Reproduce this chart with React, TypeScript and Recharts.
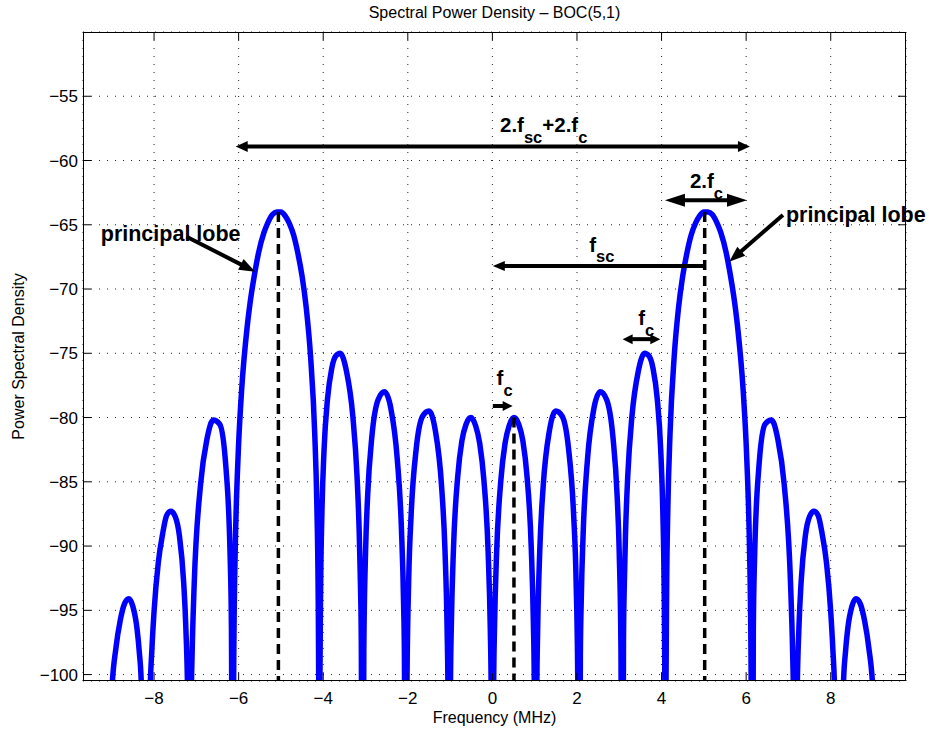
import React from 'react';
import { LineChart, Line, XAxis, YAxis, CartesianGrid, ReferenceLine, ReferenceDot } from 'recharts';

const W = 929;
const H = 736;
const BOX = { left: 83, top: 32, right: 906, bottom: 681 };
const FONT = '"Liberation Sans", Arial, Helvetica, sans-serif';

const xTicks = [-8, -6, -4, -2, 0, 2, 4, 6, 8];
const yTicks = [-100, -95, -90, -85, -80, -75, -70, -65, -60, -55];
const xDomain = [-9.68, 9.78];
const yDomain = [-100.5, -50];

// values; nulls go far below the axis and get clipped
const freqLeft = [
  -9.207, -9.0, -8.9, -8.8, -8.7, -8.6, -8.5, -8.4, -8.35, -8.3,
  -8.184, -8.1, -8.05, -8.0, -7.9, -7.8, -7.7, -7.6, -7.5, -7.4, -7.3, -7.25, -7.2,
  -7.161, -7.12, -7.1, -7.05, -6.9, -6.75, -6.6, -6.45, -6.3, -6.2, -6.17,
  -6.138, -6.13, -6.11, -6.08, -6.03, -6.0, -5.93, -5.8, -5.73, -5.6, -5.53, -5.4, -5.33,
  -5.2, -5.1, -5.0, -4.9, -4.8, -4.7, -4.6, -4.5, -4.4, -4.3, -4.2, -4.15, -4.12, -4.1,
  -4.092, -4.08, -4.06, -4.03, -3.98, -3.9, -3.8, -3.7, -3.6, -3.45, -3.3, -3.2, -3.15, -3.12, -3.1,
  -3.069, -3.04, -3.0, -2.95, -2.85, -2.7, -2.55, -2.4, -2.25, -2.15, -2.1, -2.08,
  -2.046, -2.02, -1.98, -1.92, -1.8, -1.65, -1.5, -1.35, -1.2, -1.12, -1.07, -1.05,
  -1.023, -0.99, -0.97, -0.92, -0.82, -0.72, -0.62, -0.51, -0.4, -0.3, -0.2, -0.1, -0.05, -0.03,
];
const psdLeft = [
  -130, -101.4, -97.9, -95.8, -94.5, -94.1, -94.7, -96.5, -98.2, -100.8,
  -130, -102.2, -98.0, -95.1, -91.3, -89.1, -87.6, -87.3, -87.7, -89.2, -92.8, -96.2, -102.8,
  -130, -101.9, -98.4, -92.9, -85.2, -81.7, -80.2, -80.5, -83.9, -90.9, -96.5,
  -130, -107, -96.8, -90.2, -84.4, -82.0, -77.9, -73.0, -71.1, -68.4, -67.2, -65.6, -65.0,
  -64.2, -64.0, -64.0, -64.3, -64.9, -65.8, -67.2, -69.0, -71.5, -75.2, -81.3, -86.9, -93.5, -104.4,
  -130, -101.6, -92.9, -87.3, -82.5, -78.6, -76.2, -75.2, -75.0, -76.4, -79.9, -84.6, -88.8, -92.9, -97.3,
  -130, -98.1, -90.6, -86.1, -81.5, -78.6, -78.0, -79.3, -83.2, -88.7, -94.4, -98.5,
  -130, -100.9, -92.8, -87.5, -82.4, -79.9, -79.5, -81.0, -85.4, -90.4, -96.6, -101.4,
  -130, -100.4, -96.1, -90.2, -84.6, -81.8, -80.5, -80.0, -80.6, -82.0, -84.9, -90.5, -96.4, -100.8,
];
const freqRight = [
  0, 0.03, 0.05, 0.1, 0.2, 0.3, 0.4, 0.51, 0.62, 0.72, 0.82, 0.92, 0.97, 0.99,
  1.023, 1.05, 1.07, 1.12, 1.2, 1.35, 1.5, 1.65, 1.8, 1.92, 1.98, 2.02,
  2.046, 2.08, 2.1, 2.15, 2.25, 2.4, 2.55, 2.7, 2.85, 2.95, 3.0, 3.04,
  3.069, 3.1, 3.12, 3.15, 3.2, 3.3, 3.45, 3.6, 3.7, 3.8, 3.9, 3.98, 4.03, 4.06, 4.08,
  4.092, 4.1, 4.12, 4.15, 4.2, 4.3, 4.4, 4.5, 4.6, 4.7, 4.8, 4.9, 5.0, 5.1, 5.2,
  5.33, 5.4, 5.53, 5.6, 5.73, 5.8, 5.93, 6.0, 6.03, 6.08, 6.11, 6.13,
  6.138, 6.17, 6.2, 6.3, 6.45, 6.6, 6.75, 6.9, 7.05, 7.1, 7.12,
  7.161, 7.2, 7.25, 7.3, 7.4, 7.5, 7.6, 7.7, 7.8, 7.9, 8.0, 8.05, 8.1,
  8.184, 8.3, 8.35, 8.4, 8.5, 8.6, 8.7, 8.8, 8.9, 9.0, 9.207,
];
const psdRight = [
  -130, -100.8, -96.4, -90.5, -84.9, -82.0, -80.6, -80.0, -80.5, -81.8, -84.6, -90.2, -96.1, -100.4,
  -130, -101.4, -96.6, -90.4, -85.4, -81.0, -79.5, -79.9, -82.4, -87.5, -92.8, -100.9,
  -130, -98.5, -94.4, -88.7, -83.2, -79.3, -78.0, -78.6, -81.5, -86.1, -90.6, -98.1,
  -130, -97.3, -92.9, -88.8, -84.6, -79.9, -76.4, -75.0, -75.2, -76.2, -78.6, -82.5, -87.3, -92.9, -101.6,
  -130, -104.4, -93.5, -86.9, -81.3, -75.2, -71.5, -69.0, -67.2, -65.8, -64.9, -64.3, -64.0, -64.0, -64.2,
  -65.0, -65.6, -67.2, -68.4, -71.1, -73.0, -77.9, -82.0, -84.4, -90.2, -96.8, -107,
  -130, -96.5, -90.9, -83.9, -80.5, -80.2, -81.7, -85.2, -92.9, -98.4, -101.9,
  -130, -102.8, -96.2, -92.8, -89.2, -87.7, -87.3, -87.6, -89.1, -91.3, -95.1, -98.0, -102.2,
  -130, -100.8, -98.2, -96.5, -94.7, -94.1, -94.5, -95.8, -97.9, -101.4, -130,
];

const data = [
  ...freqLeft.map((f, i) => ({ f, psd: psdLeft[i] })),
  ...freqRight.map((f, i) => ({ f, psd: psdRight[i] })),
];

const minus = (v: number) => String(v).replace('-', '\u2212');

const XTick = (p: any) => (
  <g>
    <line x1={p.x} x2={p.x} y1={BOX.bottom} y2={BOX.bottom - 8} stroke="#000" />
    <line x1={p.x} x2={p.x} y1={BOX.top} y2={BOX.top + 8} stroke="#000" />
    <text x={p.x} y={BOX.bottom + 23} textAnchor="middle" fontFamily={FONT} fontSize={17} fill="#000">
      {minus(p.payload.value)}
    </text>
  </g>
);

const YTick = (p: any) => (
  <g>
    <line x1={BOX.left} x2={BOX.left + 8} y1={p.y} y2={p.y} stroke="#000" />
    <line x1={BOX.right} x2={BOX.right - 8} y1={p.y} y2={p.y} stroke="#000" />
    <text x={BOX.left - 5} y={p.y + 6} textAnchor="end" fontFamily={FONT} fontSize={17} fill="#000">
      {minus(p.payload.value)}
    </text>
  </g>
);

// arrow drawn between the two segment end points, head at the end (and start if both)
const arrow = (both: boolean, len: number, half: number) => (p: any) => {
  const { x1, y1, x2, y2 } = p;
  const d = Math.hypot(x2 - x1, y2 - y1) || 1;
  const ux = (x2 - x1) / d;
  const uy = (y2 - y1) / d;
  const head = (tx: number, ty: number, sx: number, sy: number) => {
    const bx = tx - sx * len;
    const by = ty - sy * len;
    return `${tx},${ty} ${bx - sy * half},${by + sx * half} ${bx + sy * half},${by - sx * half}`;
  };
  const ax = both ? x1 + ux * len * 0.8 : x1;
  const ay = both ? y1 + uy * len * 0.8 : y1;
  return (
    <g>
      <line x1={ax} y1={ay} x2={x2 - ux * len * 0.8} y2={y2 - uy * len * 0.8} stroke="#000" strokeWidth={4} />
      <polygon points={head(x2, y2, ux, uy)} fill="#000" />
      {both && <polygon points={head(x1, y1, -ux, -uy)} fill="#000" />}
    </g>
  );
};

type Part = { t: string; sub?: boolean };
const texLabel = (parts: Part[], size: number, subSize: number) => (p: any) => {
  let down = false;
  return (
    <text x={p.cx} y={p.cy} fontFamily={FONT} fontWeight="bold" fontSize={size} fill="#000">
      {parts.map((pt, i) => {
        let dy = 0;
        if (pt.sub && !down) { dy = 10.5; down = true; }
        else if (!pt.sub && down) { dy = -10.5; down = false; }
        return (
          <tspan key={i} dy={dy} fontSize={pt.sub ? subSize : size}>{pt.t}</tspan>
        );
      })}
    </text>
  );
};

const dashed = { stroke: '#000', strokeWidth: 3.5, strokeDasharray: '10 6' };

export default function App() {
  return (
    <div style={{ position: 'absolute', left: 0, top: 0, width: W, height: H, background: '#fff' }}>
      <LineChart
        width={W}
        height={H}
        data={data}
        margin={{ top: BOX.top, right: W - BOX.right, left: BOX.left - 70, bottom: H - BOX.bottom - 40 }}
      >
        <CartesianGrid stroke="#222" strokeDasharray="1 7" />
        <XAxis
          dataKey="f"
          type="number"
          domain={xDomain}
          ticks={xTicks}
          interval={0}
          allowDataOverflow
          axisLine={false}
          tickLine={false}
          height={40}
          tick={(p: any) => <XTick {...p} />}
        />
        <YAxis
          type="number"
          domain={yDomain}
          ticks={yTicks}
          interval={0}
          allowDataOverflow
          axisLine={false}
          tickLine={false}
          width={70}
          tick={(p: any) => <YTick {...p} />}
        />
        <Line
          dataKey="psd"
          type="monotone"
          stroke="#0000ff"
          strokeWidth={5.5}
          strokeLinejoin="round"
          dot={false}
          activeDot={false}
          isAnimationActive={false}
        />

        <ReferenceLine segment={[{ x: -5.06, y: -64 }, { x: -5.06, y: -100.5 }]} {...dashed} />
        <ReferenceLine segment={[{ x: 0.51, y: -80 }, { x: 0.51, y: -100.5 }]} {...dashed} />
        <ReferenceLine segment={[{ x: 5.02, y: -64 }, { x: 5.02, y: -100.5 }]} {...dashed} />

        <ReferenceLine segment={[{ x: -6.07, y: -58.9 }, { x: 6.09, y: -58.9 }]} shape={arrow(true, 12, 5.5)} />
        <ReferenceLine segment={[{ x: 4.08, y: -63.1 }, { x: 6.02, y: -63.1 }]} shape={arrow(true, 20, 6.5)} />
        <ReferenceLine segment={[{ x: 5.01, y: -68.2 }, { x: 0.01, y: -68.2 }]} shape={arrow(false, 12, 5)} />
        <ReferenceLine segment={[{ x: 3.08, y: -73.9 }, { x: 3.97, y: -73.9 }]} shape={arrow(true, 10, 5)} />
        <ReferenceLine segment={[{ x: 0.01, y: -79.1 }, { x: 0.48, y: -79.1 }]} shape={arrow(false, 10, 5)} />
        <ReferenceLine segment={[{ x: -7.23, y: -65.93 }, { x: -5.61, y: -68.65 }]} shape={arrow(false, 16, 6)} />
        <ReferenceLine segment={[{ x: 6.87, y: -64.24 }, { x: 5.6, y: -67.87 }]} shape={arrow(false, 16, 6)} />

        <ReferenceDot x={0.18} y={-57.8} shape={texLabel([{ t: '2.f' }, { t: 'sc', sub: true }, { t: '+2.f' }, { t: 'c', sub: true }], 20.5, 16.5)} />
        <ReferenceDot x={4.67} y={-62.14} shape={texLabel([{ t: '2.f' }, { t: 'c', sub: true }], 20.5, 16.5)} />
        <ReferenceDot x={2.29} y={-67.1} shape={texLabel([{ t: 'f' }, { t: 'sc', sub: true }], 20.5, 16.5)} />
        <ReferenceDot x={3.45} y={-72.8} shape={texLabel([{ t: 'f' }, { t: 'c', sub: true }], 20.5, 16.5)} />
        <ReferenceDot x={0.1} y={-77.47} shape={texLabel([{ t: 'f' }, { t: 'c', sub: true }], 20.5, 16.5)} />
        <ReferenceDot x={-9.26} y={-66.24} shape={texLabel([{ t: 'principal lobe' }], 21.5, 16)} />
        <ReferenceDot x={6.94} y={-64.76} shape={texLabel([{ t: 'principal lobe' }], 21.5, 16)} />
      </LineChart>

      <svg width={W} height={H} style={{ position: 'absolute', left: 0, top: 0, pointerEvents: 'none' }}>
        <rect
          x={BOX.left + 0.5}
          y={BOX.top + 0.5}
          width={BOX.right - BOX.left - 1}
          height={BOX.bottom - BOX.top - 1}
          fill="none"
          stroke="#000"
        />
        <text x={(BOX.left + BOX.right) / 2} y={18} textAnchor="middle" fontFamily={FONT} fontSize={16}>
          Spectral Power Density – BOC(5,1)
        </text>
        <text x={(BOX.left + BOX.right) / 2} y={723} textAnchor="middle" fontFamily={FONT} fontSize={16}>
          Frequency (MHz)
        </text>
        <text
          transform={`translate(24, ${(BOX.top + BOX.bottom) / 2}) rotate(-90)`}
          textAnchor="middle"
          fontFamily={FONT}
          fontSize={16}
        >
          Power Spectral Density
        </text>
      </svg>
    </div>
  );
}
